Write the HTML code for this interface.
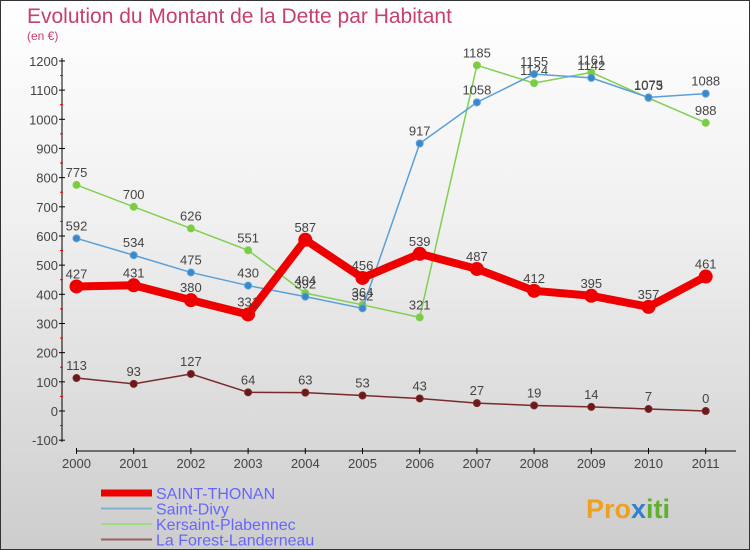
<!DOCTYPE html>
<html><head><meta charset="utf-8"><style>
body{margin:0}
#c{width:750px;height:550px;position:relative;overflow:hidden;box-sizing:border-box;border:1px solid #333;background:linear-gradient(#ffffff,#f0f0f0 40%,#cdcdcd);font-family:"Liberation Sans",sans-serif}
svg text{font-family:"Liberation Sans",sans-serif}
</style></head><body>
<div id="c">
<svg id="s" width="750" height="550">
<text x="26" y="22" font-size="21" fill="#c8406a">Evolution du Montant de la Dette par Habitant</text>
<text x="26" y="39" font-size="12" fill="#c8406a">(en €)</text>
<g id="axes"></g><g id="series"></g><g id="legend"></g>
<text x="585" y="517" font-size="27" font-weight="bold" fill="#f0a020">Pro<tspan fill="#3080d0">x</tspan><tspan fill="#60b030">iti</tspan></text>
</svg></div>
<script>
const years=[2000,2001,2002,2003,2004,2005,2006,2007,2008,2009,2010,2011];
const yTicks=[-100,0,100,200,300,400,500,600,700,800,900,1000,1100,1200];
const saintThonan=[427,431,380,331,587,456,539,487,412,395,357,461];
const saintDivy=[592,534,475,430,392,352,917,1058,1155,1142,1075,1088];
const kersaint=[775,700,626,551,404,364,321,1185,1124,1161,1073,988];
const laForest=[113,93,127,64,63,53,43,27,19,14,7,0];
const NS="http://www.w3.org/2000/svg";
const X=i=>75.5+i*57.2;
const Y=v=>410-v*0.2917;
function mk(t,a,p){const e=document.createElementNS(NS,t);for(const k in a)e.setAttribute(k,a[k]);p.appendChild(e);return e;}
const ax=document.getElementById('axes');
let e=mk('line',{x1:61,y1:57,x2:61,y2:441,stroke:'#000','stroke-width':1},ax);


e=mk('line',{x1:75,y1:450,x2:735,y2:450,stroke:'#000','stroke-width':1},ax);


yTicks.forEach(v=>{const y=Y(v);mk('line',{x1:58,y1:y,x2:64,y2:y,stroke:'#000'},ax);
if(v<1200)mk('line',{x1:59,y1:y-14.6,x2:62,y2:y-14.6,stroke:'#e00'},ax);
const t=mk('text',{x:57,y:y+5,'text-anchor':'end','font-size':13,fill:'#444'},ax);t.textContent=v;

});
years.forEach((yr,i)=>{mk('line',{x1:X(i),y1:447,x2:X(i),y2:453,stroke:'#000'},ax);
const t=mk('text',{x:X(i),y:467,'text-anchor':'middle','font-size':13,fill:'#444'},ax);t.textContent=yr;

});
const sg=document.getElementById('series');
function series(vals,color,w,r,dot,name){const g=mk('g',{},sg);


mk('polyline',{points:vals.map((v,i)=>X(i)+','+Y(v)).join(' '),fill:'none',stroke:color,'stroke-width':w,'stroke-linejoin':'round'},g);
vals.forEach((v,i)=>{const c=mk('circle',{cx:X(i),cy:Y(v),r:r,fill:dot,stroke:color,'stroke-width':1},g);


const t=mk('text',{x:X(i),y:Y(v)-8,'text-anchor':'middle','font-size':13,fill:'#444'},g);t.textContent=v;

});}
series(laForest,'#7a2a2a',1.5,3.5,'#6a1a1a','la-forest-series');
series(kersaint,'#80d050',1.5,3.5,'#7acc40','kersaint-series');
series(saintDivy,'#5aa0d8',1.5,3.5,'#3a88cc','saint-divy-series');
series(saintThonan,'#ee0000',8,6.5,'#ee0000','saint-thonan-series');
const lg=document.getElementById('legend');
const items=[['SAINT-THONAN','#ee0000',7],['Saint-Divy','#80b0d0',2],['Kersaint-Plabennec','#a0dc80',2],['La Forest-Landerneau','#9a6060',2]];
items.forEach((it,i)=>{const y=492+i*15.5;const g=mk('g',{},lg);


mk('line',{x1:100,y1:y,x2:151,y2:y,stroke:it[1],'stroke-width':it[2]},g);
const t=mk('text',{x:155,y:y+6,'font-size':16,fill:'#6666ff'},g);t.textContent=it[0];});
</script>
</body></html>
